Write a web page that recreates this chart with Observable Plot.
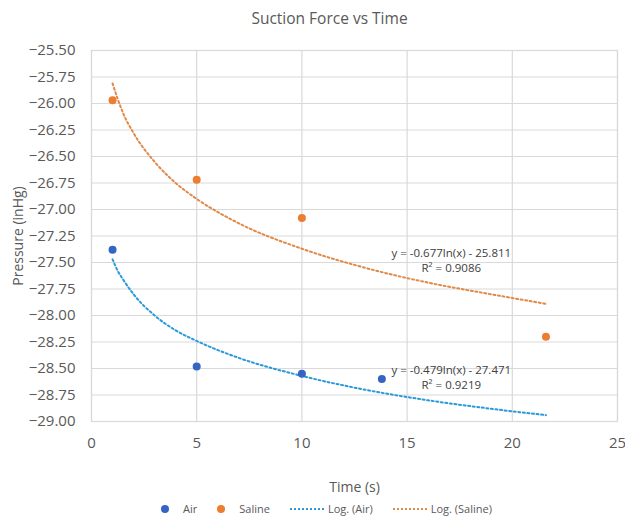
<!DOCTYPE html>
<html>
<head>
<meta charset="utf-8">
<script src="https://cdn.jsdelivr.net/npm/d3@7"></script>
<script src="https://cdn.jsdelivr.net/npm/@observablehq/plot@0.6"></script>
<style>
  html, body { margin: 0; padding: 0; background: #fff; }
  body { width: 625px; height: 518px; overflow: hidden; font-family: "Open Sans", "Noto Sans", sans-serif; }
  #title { height: 35px; line-height: 36px; text-align: center; font-size: 15.5px; color: #595959; padding-left: 34px; }
  #legend { display: flex; justify-content: center; gap: 20px; font-size: 11px; color: #595959; margin-top: 4px; padding-left: 28px; }
  .item { display: flex; align-items: center; }
  .item.dotitem { gap: 14px; }
  .item.dashitem { gap: 4px; }
  .dot { width: 8px; height: 8px; border-radius: 50%; display: inline-block; }
  .dash { width: 34px; border-top: 2px dotted; display: inline-block; }
</style>
</head>
<body>
<div id="title">Suction Force vs Time</div>
<div id="chart"></div>
<div id="legend"></div>
<script>
// Measured data
const airTime = [1, 5, 10, 13.8];
const airPressure = [-27.38, -28.48, -28.55, -28.60];
const salineTime = [1, 5, 10, 21.6];
const salinePressure = [-25.97, -26.72, -27.08, -28.20];

// Logarithmic trendlines, points
const trendTime = [1, 1.25, 1.5, 2, 3, 4, 5, 7, 10, 13, 16, 19, 21.6];
const airTrend = [-27.47, -27.58, -27.66, -27.80, -28.00, -28.14, -28.24, -28.40, -28.57, -28.70, -28.80, -28.88, -28.94];
const salineTrend = [-25.81, -25.96, -26.09, -26.28, -26.55, -26.75, -26.90, -27.13, -27.37, -27.55, -27.69, -27.80, -27.89];

// Trendline equation labels
const airEq = ["y = -0.479ln(x) - 27.471", "R² = 0.9219"];
const salineEq = ["y = -0.677ln(x) - 25.811", "R² = 0.9086"];

// Axis ticks
const xTicks = [0, 5, 10, 15, 20, 25];
const yTicks = d3.range(-29, -25.49, 0.25);

const colors = {air: "#3464c4", saline: "#ed7d31", airTrend: "#2a9bd8", salineTrend: "#e08a4a"};

const airPts = airTime.map((t, i) => ({t, p: airPressure[i]}));
const salPts = salineTime.map((t, i) => ({t, p: salinePressure[i]}));
const airLine = trendTime.map((t, i) => ({t, p: airTrend[i]}));
const salLine = trendTime.map((t, i) => ({t, p: salineTrend[i]}));

const chart = Plot.plot({
  width: 625,
  height: 462,
  marginLeft: 91,
  marginRight: 8,
  marginTop: 15,
  marginBottom: 76,
  style: {fontFamily: "'Open Sans', 'Noto Sans', sans-serif", fontSize: "15px", color: "#595959", background: "#fff"},
  x: {domain: [0, 25], ticks: xTicks, tickSize: 0, tickPadding: 16, label: "Time (s)", labelAnchor: "center", labelOffset: 70, labelArrow: "none"},
  y: {domain: [-29, -25.5], ticks: yTicks, tickSize: 0, tickPadding: 16, tickFormat: d3.format(".2f"), label: "Pressure (inHg)", labelAnchor: "center", labelOffset: 78, labelArrow: "none"},
  marks: [
    Plot.gridY(yTicks, {stroke: "#d9d9d9", strokeOpacity: 1, strokeWidth: 1.2}),
    Plot.gridX(xTicks, {stroke: "#d9d9d9", strokeOpacity: 1, strokeWidth: 1.2}),
    Plot.frame({stroke: "#d9d9d9", strokeWidth: 1.2}),
    Plot.line(salLine, {x: "t", y: "p", stroke: colors.salineTrend, strokeWidth: 2, strokeDasharray: "2 2.6", curve: "monotone-x"}),
    Plot.line(airLine, {x: "t", y: "p", stroke: colors.airTrend, strokeWidth: 2, strokeDasharray: "2 2.6", curve: "monotone-x"}),
    Plot.dot(airPts, {x: "t", y: "p", r: 4, fill: colors.air, stroke: "none"}),
    Plot.dot(salPts, {x: "t", y: "p", r: 4, fill: colors.saline, stroke: "none"}),
    Plot.text(salineEq, {x: 17.1, y: [-27.41, -27.555], text: d => d, fontSize: 11.5, fill: "#404040"}),
    Plot.text(airEq, {x: 17.1, y: [-28.515, -28.655], text: d => d, fontSize: 11.5, fill: "#404040"})
  ]
});
chart.querySelectorAll("[aria-label='x-axis label'] text, [aria-label='y-axis label'] text").forEach(t => { t.style.fontSize = "14px"; t.setAttribute("fill", "#595959"); });
document.getElementById("chart").appendChild(chart);

const legendItems = [
  {name: "Air", kind: "dot", color: colors.air},
  {name: "Saline", kind: "dot", color: colors.saline},
  {name: "Log. (Air)", kind: "dash", color: colors.airTrend},
  {name: "Log. (Saline)", kind: "dash", color: colors.salineTrend}
];
const legend = document.getElementById("legend");
legendItems.forEach(it => {
  const d = document.createElement("div");
  d.className = "item " + it.kind + "item";
  const sw = document.createElement("span");
  sw.className = it.kind;
  if (it.kind === "dot") sw.style.background = it.color; else sw.style.borderTopColor = it.color;
  const lab = document.createElement("span");
  lab.textContent = it.name;
  d.appendChild(sw); d.appendChild(lab);
  legend.appendChild(d);
});
</script>
</body>
</html>
